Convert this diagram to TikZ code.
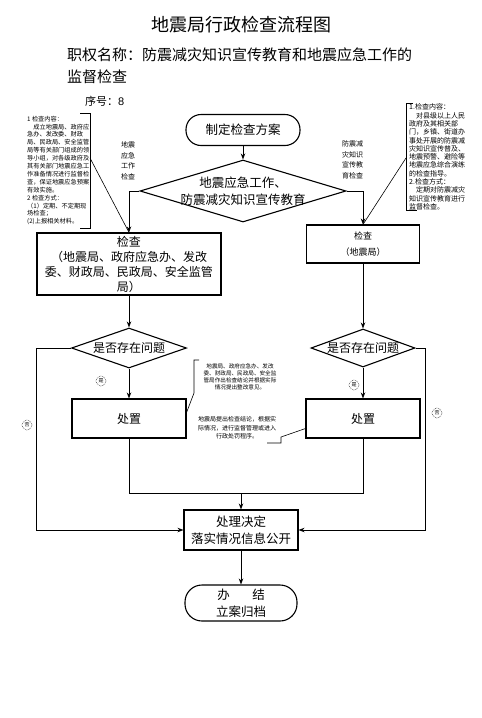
\documentclass[tikz,border=0pt]{standalone}
\usepackage{fontspec}
\setmainfont{Noto Sans CJK SC}
\newfontfamily\latinsf{Liberation Sans}
\usetikzlibrary{shapes.geometric,arrows.meta,calc}
\newcommand\myfs[2]{\fontsize{#1}{#2}\selectfont}
\begin{document}
\begin{tikzpicture}[x=1pt,y=-1pt,
  box/.style={draw,line width=1.1pt,inner sep=0pt,align=center},
  dia/.style={diamond,draw,line width=1.1pt,inner sep=0pt},
  conn/.style={line width=0.75pt},
  arr/.style={conn,-{Stealth[length=6pt,width=4.5pt]}},
  thinl/.style={line width=0.6pt},
  note/.style={inner sep=0pt,align=left},
  lab/.style={inner sep=0pt,align=center,font=\myfs{7}{10.5}},
  circ/.style={circle,draw,densely dotted,line width=0.5pt,inner sep=0pt,minimum size=10pt,font=\myfs{5}{5}}]
\useasboundingbox (0,0) rectangle (482,718);

% titles
\node[font=\myfs{18}{18}] (title) at (241,25) {地震局行政检查流程图};
\node[font=\myfs{15}{22},anchor=west,align=left,inner sep=0pt] (sub) at (67,66) {职权名称：防震减灾知识宣传教育和地震应急工作的\\监督检查};
\node[font=\myfs{11}{11},anchor=west,inner sep=0pt] (num) at (85,101) {序号：{\latinsf 8}};

% main nodes
\node[box,rounded corners=15pt,minimum width=114pt,minimum height=31pt,font=\myfs{12.5}{15}] (start) at (243,130) {制定检查方案};
\node[dia,minimum width=206pt,minimum height=62pt] (d1) at (243,191) {};
\node[align=center,font=\myfs{12.5}{17}] (d1t) at (d1) {地震应急工作、\\防震减灾知识宣传教育};

\node[box,minimum width=184pt,minimum height=62pt,font=\myfs{12}{15}] (chk1) at (129,264) {检查\\（地震局、政府应急办、发改\\委、财政局、民政局、安全监管\\局）};
\node[box,minimum width=113pt,minimum height=38pt,font=\myfs{9}{16}] (chk2) at (363,244) {检查\\（地震局）};

\node[dia,minimum width=115pt,minimum height=40pt] (q1) at (129,348) {};
\node[font=\myfs{12}{12}] (q1t) at (q1) {是否存在问题};
\node[dia,minimum width=104pt,minimum height=38pt] (q2) at (363,348) {};
\node[font=\myfs{12}{12}] (q2t) at (q2) {是否存在问题};

\node[box,minimum width=114pt,minimum height=39pt,font=\myfs{12}{12}] (zp1) at (129,418.5) {处置};
\node[box,minimum width=114pt,minimum height=39pt,font=\myfs{12}{12}] (zp2) at (363,418.5) {处置};

\node[box,minimum width=114pt,minimum height=40pt,font=\myfs{12.5}{17}] (deal) at (241,530) {处理决定\\落实情况信息公开};
\node[box,rounded corners=17pt,minimum width=112pt,minimum height=36pt,font=\myfs{12.5}{17}] (fin) at (241,603) {办\hspace{1.8em}结\\立案归档};

% edge labels
\node[lab] (lab1) at (128,161) {地震\\应急\\工作\\检查};
\node[lab] (lab2) at (352.5,160) {防震减\\灾知识\\宣传教\\育检查};

% notes
\node[note,anchor=west,font=\myfs{6.2}{7.9}] (n1) at (27,170.5) {1 检查内容：\\
\hspace*{1em}成立地震局、政府应\\
急办、发改委、财政\\
局、民政局、安全监管\\
局等有关部门组成的领\\
导小组，对各级政府及\\
其有关部门地震应急工\\
作准备情况进行监督检\\
查，保证地震应急预案\\
有效实施。\\
2 检查方式：\\
（1）定期、不定期现\\
场检查；\\
(2)上报相关材料。};
\node[note,anchor=west,font=\myfs{7}{8.3}] (n2) at (409,157) {1.检查内容：\\
\hspace*{1em}对县级以上人民\\
政府及其相关部\\
门，乡镇、街道办\\
事处开展的防震减\\
灾知识宣传普及、\\
地震预警、避险等\\
地震应急综合演练\\
的检查指导。\\
2.检查方式：\\
\hspace*{1em}定期对防震减灾\\
知识宣传教育进行\\
监督检查。};
\node[note,align=center,font=\myfs{5.6}{7}] (n3) at (240,376.5) {地震局、政府应急办、发改\\委、财政局、民政局、安全监\\管局作出检查结论并根据实际\\情况提出整改意见。};
\node[note,align=center,font=\myfs{6}{8.5}] (n4) at (237,428) {地震局提出检查结论，根据实\\际情况，进行监督管理或进入\\行政处罚程序。};

% note brackets and callout lines
\draw[thinl] (80,113) -- (90,113) -- (90,228) -- (80,228);
\draw[thinl] (90,158) -- (chk1.north);
\draw[thinl] (413,103) -- (406,103) -- (406,210) -- (417,210);
\draw[thinl] (406,158) -- (chk2.north);
\draw[thinl] (199,360) -- (194,360) -- (194,393) -- ($(zp1.north east)!0.35!(zp1.south east)$);
\draw[thinl] (267,443) -- (281,443) -- (281,437) -- ($(zp2.north west)!0.75!(zp2.south west)$);

% connectors
\draw[arr] (start.south) -- (d1.north);
\draw[arr] (d1.west) -| (chk1.north);
\draw[arr] (d1.east) -| (chk2.north);
\draw[arr] (chk1.south) -- (q1.north);
\draw[arr] (chk2.south) -- (q2.north);
\draw[arr] (q1.south) -- (zp1.north);
\draw[arr] (q2.south) -- (zp2.north);
\coordinate (lout) at (36,348);
\coordinate (rout) at (425,348);
\draw[arr] (q1.west) -- (lout) |- (deal.west);
\draw[arr] (q2.east) -- (rout) |- (deal.east);
\coordinate (merge) at (241,493);
\draw[conn] (zp1.south) |- (merge);
\draw[conn] (zp2.south) |- (merge);
\draw[arr] (merge) -- (deal.north);
\draw[arr] (deal.south) -- (fin.north);

% yes / no marks
\node[circ] (y1) at (101,381) {是};
\node[circ] (y2) at (354,385) {是};
\node[circ] (no1) at (27,425) {否};
\node[circ] (no2) at (437,413) {否};
\end{tikzpicture}
\end{document}
